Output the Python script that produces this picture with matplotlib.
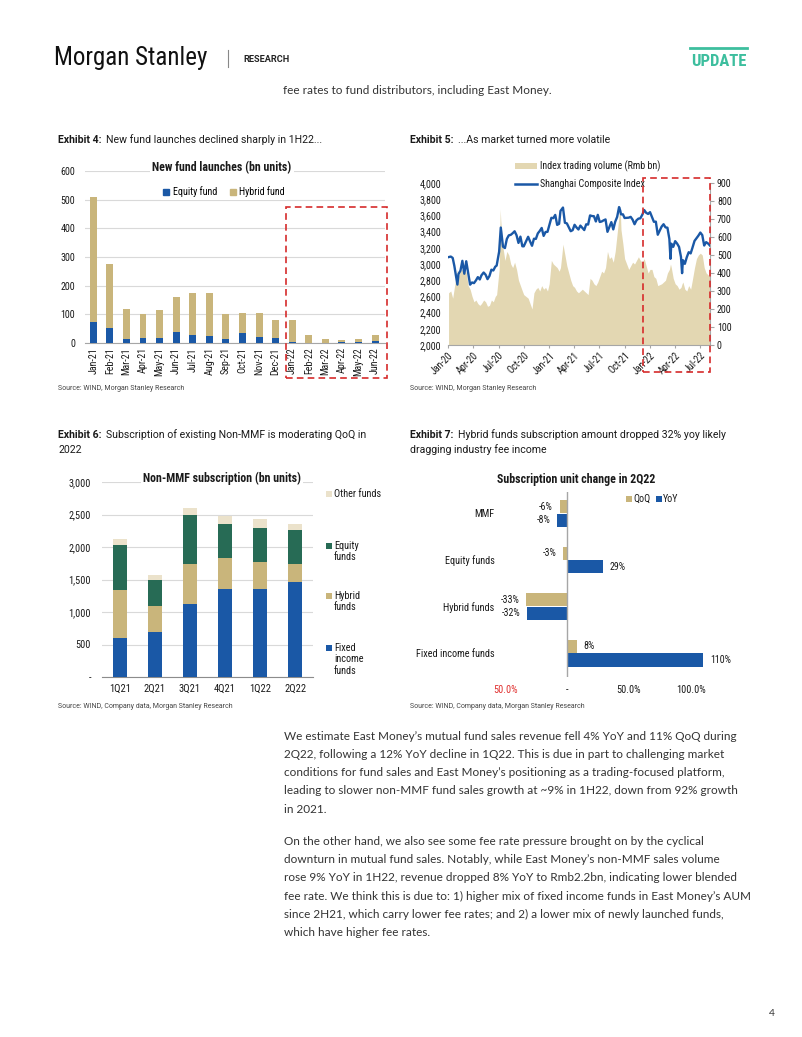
import matplotlib
matplotlib.use('Agg')
import matplotlib.pyplot as plt
import matplotlib.dates as mdates
from matplotlib.patches import Rectangle, Patch
from matplotlib.lines import Line2D
import numpy as np
import pandas as pd

# ---------------- data ----------------
launch_months = ['Jan-21', 'Feb-21', 'Mar-21', 'Apr-21', 'May-21', 'Jun-21', 'Jul-21', 'Aug-21',
                 'Sep-21', 'Oct-21', 'Nov-21', 'Dec-21', 'Jan-22', 'Feb-22', 'Mar-22', 'Apr-22',
                 'May-22', 'Jun-22']
launch_equity = [75, 52, 14, 16, 16, 37, 29, 24, 13, 36, 20, 18, 5, 1, 1, 5, 2, 8]
launch_hybrid = [435, 224, 104, 86, 100, 123, 147, 150, 89, 68, 83, 63, 76, 26, 13, 5, 13, 21]

mkt_dates = ['2020-01-02', '2020-01-10', '2020-01-17', '2020-01-23', '2020-02-03', '2020-02-07',
             '2020-02-14', '2020-02-21', '2020-02-28', '2020-03-06', '2020-03-13', '2020-03-20',
             '2020-03-27', '2020-04-03', '2020-04-10', '2020-04-17', '2020-04-24', '2020-04-30',
             '2020-05-08', '2020-05-15', '2020-05-22', '2020-05-29', '2020-06-05', '2020-06-12',
             '2020-06-19', '2020-06-24', '2020-07-03', '2020-07-07', '2020-07-09', '2020-07-17',
             '2020-07-24', '2020-07-31', '2020-08-07', '2020-08-14', '2020-08-21', '2020-08-28',
             '2020-09-04', '2020-09-11', '2020-09-18', '2020-09-25', '2020-09-30', '2020-10-16',
             '2020-10-23', '2020-10-30', '2020-11-06', '2020-11-13', '2020-11-20', '2020-11-27',
             '2020-12-04', '2020-12-11', '2020-12-18', '2020-12-25', '2020-12-31',
             '2021-01-08', '2021-01-15', '2021-01-22', '2021-01-29', '2021-02-05', '2021-02-10',
             '2021-02-19', '2021-02-26', '2021-03-05', '2021-03-12', '2021-03-19', '2021-03-26',
             '2021-04-02', '2021-04-09', '2021-04-16', '2021-04-23', '2021-04-30', '2021-05-07',
             '2021-05-14', '2021-05-21', '2021-05-28', '2021-06-04', '2021-06-11', '2021-06-18',
             '2021-06-25', '2021-07-02', '2021-07-09', '2021-07-16', '2021-07-23', '2021-07-30',
             '2021-08-06', '2021-08-13', '2021-08-20', '2021-08-27', '2021-09-03', '2021-09-10',
             '2021-09-14', '2021-09-17', '2021-09-24', '2021-09-30', '2021-10-15', '2021-10-22',
             '2021-10-29', '2021-11-05', '2021-11-12', '2021-11-19', '2021-11-26', '2021-12-03',
             '2021-12-10', '2021-12-17', '2021-12-24', '2021-12-31',
             '2022-01-07', '2022-01-14', '2022-01-21', '2022-01-28', '2022-02-11', '2022-02-18',
             '2022-02-25', '2022-03-04', '2022-03-11', '2022-03-15', '2022-03-18', '2022-03-25',
             '2022-04-01', '2022-04-08', '2022-04-15', '2022-04-22', '2022-04-26', '2022-04-29',
             '2022-05-06', '2022-05-13', '2022-05-20', '2022-05-27', '2022-06-02', '2022-06-10',
             '2022-06-17', '2022-06-24', '2022-07-01', '2022-07-08', '2022-07-15', '2022-07-22',
             '2022-07-29', '2022-08-05']
sh_index = [3085, 3092, 3075, 2976, 2746, 2876, 2917, 3039, 2880, 3034, 2887, 2745,
            2772, 2764, 2797, 2838, 2809, 2860, 2895, 2868, 2813, 2852, 2930, 2920,
            2967, 2980, 3152, 3345, 3450, 3214, 3197, 3310, 3354, 3360, 3380, 3404,
            3355, 3260, 3338, 3219, 3218, 3336, 3278, 3225, 3312, 3310, 3378, 3408,
            3445, 3347, 3395, 3397, 3473,
            3570, 3566, 3606, 3483, 3496, 3655, 3697, 3509, 3502, 3453, 3405, 3418,
            3484, 3451, 3426, 3474, 3447, 3419, 3490, 3487, 3600, 3592, 3590, 3525,
            3607, 3519, 3525, 3539, 3550, 3397, 3458, 3517, 3427, 3522, 3581, 3703,
            3662, 3613, 3613, 3568, 3572, 3582, 3547, 3491, 3539, 3560, 3564, 3608,
            3666, 3632, 3618, 3640,
            3580, 3521, 3523, 3361, 3462, 3491, 3452, 3448, 3309, 3064, 3251, 3212,
            3282, 3252, 3211, 3087, 2887, 3047, 3002, 3084, 3146, 3131, 3195, 3285,
            3317, 3350, 3388, 3357, 3228, 3270, 3253, 3227]
trade_volume = [290, 300, 260, 320, 420, 380, 410, 420, 430, 400, 330, 310,
                270, 240, 250, 230, 220, 230, 250, 240, 215, 220, 250, 240,
                270, 280, 420, 755, 690, 540, 470, 520, 500, 450, 430, 460,
                420, 360, 330, 300, 280, 260, 230, 200, 290, 310, 320, 300,
                330, 310, 320, 300, 340,
                470, 450, 440, 430, 410, 430, 560, 500, 440, 400, 360, 330,
                320, 300, 290, 300, 310, 300, 290, 280, 370, 360, 340, 330,
                350, 380, 410, 400, 430, 520, 480, 490, 460, 520, 620, 720,
                770, 640, 560, 480, 420, 440, 460, 450, 470, 490, 470, 460,
                480, 440, 400, 420,
                420, 380, 370, 330, 340, 350, 360, 400, 420, 450, 430, 370,
                340, 330, 310, 320, 340, 350, 310, 300, 330, 310, 360, 430,
                480, 500, 510, 500, 430, 400, 390, 380]

quarters = ['1Q21', '2Q21', '3Q21', '4Q21', '1Q22', '2Q22']
sub_fixed = [598, 695, 1119, 1359, 1359, 1467]
sub_hybrid = [741, 404, 623, 470, 409, 270]
sub_equity = [685, 393, 757, 532, 532, 522]
sub_other = [97, 77, 107, 117, 137, 92]

chg_categories = ['MMF', 'Equity funds', 'Hybrid funds', 'Fixed income funds']
chg_qoq = [-6, -3, -33, 8]
chg_yoy = [-8, 29, -32, 110]

# ---------------- style ----------------
BLUE = '#1a58a6'
TAN = '#c9b57b'
FILL = '#e3d7b2'
GREEN = '#276b55'
LIGHT = '#ebe2cb'
RED = '#d62b2b'
GRID = '#d9d9d9'
AXIS = '#a6a6a6'
TEAL = '#3dbe9e'
TXT = '#1a1a1a'

COND = ['Roboto Condensed', 'Liberation Sans Narrow', 'Roboto', 'DejaVu Sans']
plt.rcParams['font.family'] = COND
plt.rcParams['axes.unicode_minus'] = False

W, H = 802, 1037
fig = plt.figure(figsize=(W / 100, H / 100), dpi=100)
fig.patch.set_facecolor('white')
renderer = fig.canvas.get_renderer()


def fx(x):
    return x / W


def fy(y):
    return 1 - y / H


def rect(x0, y0, x1, y1):
    return [x0 / W, 1 - y1 / H, (x1 - x0) / W, (y1 - y0) / H]


def exhibit(x, y, label, lines):
    t = fig.text(fx(x), fy(y), label, weight='bold', fontsize=7.6, family=['Roboto'],
                 va='center', ha='left', color=TXT)
    bb = t.get_window_extent(renderer=renderer)
    fig.text((bb.x1 + 5) / W, fy(y), lines[0], fontsize=7.6, family=['Roboto'],
             va='center', ha='left', color=TXT)
    for i, ln in enumerate(lines[1:], 1):
        fig.text(fx(x), fy(y + 15 * i), ln, fontsize=7.6, family=['Roboto'],
                 va='center', ha='left', color=TXT)


def source(x, y, s):
    fig.text(fx(x), fy(y), s, fontsize=5, family=['Roboto'], color='#444', va='center', ha='left')


def dashed_box(x0, y0, x1, y1):
    fig.add_artist(Rectangle((fx(x0), fy(y1)), (x1 - x0) / W, (y1 - y0) / H,
                             transform=fig.transFigure, fill=False, ec=RED, lw=1.2,
                             ls=(0, (4, 2.5)), zorder=10))


def square(x, y, color, size=6):
    fig.add_artist(Rectangle((fx(x), fy(y + size / 2)), size / W, size / H,
                             transform=fig.transFigure, color=color, lw=0, zorder=10))


# ---------------- header ----------------
fig.text(fx(54), fy(58), 'Morgan Stanley', fontsize=18, family=COND,
         va='center', ha='left', color='#111')
fig.add_artist(Line2D([fx(228), fx(228)], [fy(50), fy(67)], color='#888', lw=0.8))
fig.text(fx(243), fy(59), 'RESEARCH', fontsize=6.6, weight='bold', family=['Roboto'],
         va='center', ha='left', color='#222')
fig.add_artist(Line2D([fx(690), fx(747)], [fy(48), fy(48)], color=TEAL, lw=2))
fig.text(fx(718.5), fy(61.5), 'UPDATE', fontsize=12, weight='bold', family=COND,
         va='center', ha='center', color=TEAL)
fig.text(fx(283), fy(90), 'fee rates to fund distributors, including East Money.',
         fontsize=8.5, family=['Lato'], color='#333', va='center', ha='left')

# ---------------- Exhibit 4 ----------------
exhibit(58, 139.5, 'Exhibit 4:', ['New fund launches declined sharply in 1H22...'])
ax1 = fig.add_axes(rect(85, 171, 385, 343))
x1 = np.arange(len(launch_months))
ax1.bar(x1, launch_equity, width=0.42, color=BLUE, zorder=3)
ax1.bar(x1, launch_hybrid, bottom=launch_equity, width=0.42, color=TAN, zorder=3)
ax1.set_xlim(-0.5, 17.6)
ax1.set_ylim(0, 600)
ax1.set_yticks(range(0, 601, 100))
ax1.set_xticks(x1)
ax1.set_xticklabels(launch_months, rotation=90)
ax1.grid(axis='y', color=GRID, lw=0.8, zorder=0)
ax1.set_axisbelow(True)
for s in ['top', 'right', 'left']:
    ax1.spines[s].set_visible(False)
ax1.spines['bottom'].set_color(AXIS)
ax1.tick_params(axis='y', length=0, pad=7, labelsize=7.2, colors=TXT)
ax1.tick_params(axis='x', length=0, pad=3, labelsize=7.2, colors=TXT)
fig.text(fx(222), fy(168), 'New fund launches (bn units)', fontsize=8.6, weight='bold',
         ha='center', va='center', color=TXT,
         bbox=dict(fc='white', ec='none', pad=1.5))
ax1.legend(handles=[Patch(color=BLUE, label='Equity fund'), Patch(color=TAN, label='Hybrid fund')],
           ncol=2, loc='center', bbox_to_anchor=(fx(224), fy(192)), bbox_transform=fig.transFigure,
           frameon=True, facecolor='white', edgecolor='none', fancybox=False, framealpha=1,
           fontsize=7.2, handlelength=0.6, handleheight=0.6, handletextpad=0.35,
           columnspacing=1.3, borderpad=0.25)
dashed_box(286, 207, 387, 378)
source(58, 389, 'Source: WIND, Morgan Stanley Research')

# ---------------- Exhibit 5 ----------------
exhibit(410, 139.5, 'Exhibit 5:', ['...As market turned more volatile'])
dts = pd.to_datetime(mkt_dates)
ax2v = fig.add_axes(rect(448, 183, 710, 345))
ax2v.fill_between(dts, 0, trade_volume, color=FILL, lw=0)
ax2i = ax2v.twinx()
ax2v.yaxis.tick_right()
ax2i.yaxis.tick_left()
ax2i.plot(dts, sh_index, color=BLUE, lw=1.7)
ax2v.set_ylim(0, 900)
ax2v.set_yticks(range(0, 901, 100))
ax2i.set_ylim(2000, 4000)
ax2i.set_yticks(range(2000, 4001, 200))
ax2i.set_yticklabels([f'{v:,}' for v in range(2000, 4001, 200)])
ax2v.set_xlim(pd.Timestamp('2019-12-31'), pd.Timestamp('2022-08-05'))
ax2v.xaxis.set_major_locator(mdates.MonthLocator(bymonth=[1, 4, 7, 10]))
ax2v.xaxis.set_major_formatter(mdates.DateFormatter('%b-%y'))
for lab in ax2v.get_xticklabels():
    lab.set_rotation(45)
    lab.set_ha('right')
    lab.set_rotation_mode('anchor')
for a in (ax2v, ax2i):
    for s in ['top', 'left']:
        a.spines[s].set_visible(False)
    a.spines['right'].set_color(AXIS)
    a.spines['bottom'].set_color(AXIS)
ax2i.spines['right'].set_visible(False)
ax2i.spines['bottom'].set_visible(False)
ax2v.tick_params(axis='y', length=3, color=AXIS, pad=2, labelsize=7.2, colors=TXT)
ax2v.tick_params(axis='y', color=AXIS)
ax2v.tick_params(axis='x', length=2, color=AXIS, pad=2, labelsize=7.2, labelcolor=TXT)
ax2i.tick_params(axis='y', length=0, pad=5, labelsize=7.2, colors=TXT)
fig.add_artist(Rectangle((fx(515), fy(169)), 22 / W, 6 / H, transform=fig.transFigure,
                         color=FILL, lw=0))
fig.text(fx(540), fy(166), 'Index trading volume (Rmb bn)', fontsize=7.2, va='center',
         ha='left', color=TXT)
fig.add_artist(Line2D([fx(515), fx(537)], [fy(184), fy(184)], color=BLUE, lw=1.8))
fig.text(fx(540), fy(184), 'Shanghai Composite Index', fontsize=7.2, va='center',
         ha='left', color=TXT)
dashed_box(643, 178, 710, 372)
source(410, 389, 'Source: WIND, Morgan Stanley Research')

# ---------------- Exhibit 6 ----------------
exhibit(58, 435, 'Exhibit 6:', ['Subscription of existing Non-MMF is moderating QoQ in', '2022'])
ax3 = fig.add_axes(rect(102, 482, 313, 677))
x3 = np.arange(len(quarters))
b1 = np.array(sub_fixed)
b2 = b1 + np.array(sub_hybrid)
b3 = b2 + np.array(sub_equity)
ax3.bar(x3, sub_fixed, width=0.4, color=BLUE, zorder=3)
ax3.bar(x3, sub_hybrid, bottom=b1, width=0.4, color=TAN, zorder=3)
ax3.bar(x3, sub_equity, bottom=b2, width=0.4, color=GREEN, zorder=3)
ax3.bar(x3, sub_other, bottom=b3, width=0.4, color=LIGHT, zorder=3)
ax3.set_xlim(-0.51, 5.51)
ax3.set_ylim(0, 3000)
ax3.set_yticks(range(0, 3001, 500))
ax3.set_yticklabels(['-'] + [f'{v:,}' for v in range(500, 3001, 500)])
ax3.set_xticks(x3)
ax3.set_xticklabels(quarters)
ax3.grid(axis='y', color=GRID, lw=0.8, zorder=0)
ax3.set_axisbelow(True)
for s in ['top', 'right', 'left']:
    ax3.spines[s].set_visible(False)
ax3.spines['bottom'].set_color('#8c8c8c')
ax3.tick_params(axis='y', length=0, pad=8, labelsize=7.4, colors=TXT)
ax3.tick_params(axis='x', length=0, pad=5, labelsize=7.6, colors=TXT)
fig.text(fx(222), fy(478), 'Non-MMF subscription (bn units)', fontsize=8.6, weight='bold',
         ha='center', va='center', color=TXT, bbox=dict(fc='white', ec='none', pad=1.5))
leg3 = [(LIGHT, ['Other funds'], 494), (GREEN, ['Equity', 'funds'], 546),
        (TAN, ['Hybrid', 'funds'], 596), (BLUE, ['Fixed', 'income', 'funds'], 648)]
for col, lines, yy in leg3:
    square(326, yy, col)
    for i, ln in enumerate(lines):
        fig.text(fx(334), fy(yy + 11.5 * i), ln, fontsize=7.4, va='center', ha='left', color=TXT)
source(58, 706, 'Source: WIND, Company data, Morgan Stanley Research')

# ---------------- Exhibit 7 ----------------
exhibit(410, 435, 'Exhibit 7:', ['Hybrid funds subscription amount dropped 32% yoy likely',
                                 'dragging industry fee income'])
ax4 = fig.add_axes(rect(500, 492, 720, 677))
y4 = np.arange(len(chg_categories))
ax4.barh(y4 - 0.145, chg_qoq, height=0.28, color=TAN, zorder=3)
ax4.barh(y4 + 0.145, chg_yoy, height=0.28, color=BLUE, zorder=3)
ax4.set_ylim(3.51, -0.46)
ax4.set_xlim(-54.2, 123.8)
ax4.axvline(0, color=AXIS, lw=1, zorder=4)
for s in ax4.spines.values():
    s.set_visible(False)
ax4.set_yticks(y4)
ax4.set_yticklabels(chg_categories)
ax4.set_xticks([-50, 0, 50, 100])
ax4.set_xticklabels(['50.0%', '-', '50.0%', '100.0%'])
ax4.get_xticklabels()[0].set_color('#e0302f')
ax4.tick_params(axis='y', length=0, pad=4, labelsize=7.4, colors=TXT)
ax4.tick_params(axis='x', length=0, pad=6, labelsize=7.4)
for lab in ax4.get_xticklabels()[1:]:
    lab.set_color(TXT)
for vals, off in ((chg_qoq, -0.145), (chg_yoy, 0.145)):
    for i, v in enumerate(vals):
        ax4.annotate(f'{v}%', (v, i + off), xytext=(5 if v > 0 else -5, 0),
                     textcoords='offset points', ha='left' if v > 0 else 'right',
                     va='center', fontsize=7.2, color=TXT)
fig.text(fx(576), fy(479), 'Subscription unit change in 2Q22', fontsize=8.6, weight='bold',
         ha='center', va='center', color=TXT)
square(626, 499, TAN)
fig.text(fx(633), fy(499), 'QoQ', fontsize=7.2, va='center', ha='left', color=TXT)
square(656, 499, BLUE)
fig.text(fx(663), fy(499), 'YoY', fontsize=7.2, va='center', ha='left', color=TXT)
source(410, 706, 'Source: WIND, Company data, Morgan Stanley Research')

# ---------------- body text ----------------
para1 = ["We estimate East Money\u2019s mutual fund sales revenue fell 4% YoY and 11% QoQ during",
         "2Q22, following a 12% YoY decline in 1Q22. This is due in part to challenging market",
         "conditions for fund sales and East Money\u2019s positioning as a trading-focused platform,",
         "leading to slower non-MMF fund sales growth at ~9% in 1H22, down from 92% growth",
         "in 2021."]
para2 = ["On the other hand, we also see some fee rate pressure brought on by the cyclical",
         "downturn in mutual fund sales. Notably, while East Money\u2019s non-MMF sales volume",
         "rose 9% YoY in 1H22, revenue dropped 8% YoY to Rmb2.2bn, indicating lower blended",
         "fee rate. We think this is due to: 1) higher mix of fixed income funds in East Money\u2019s AUM",
         "since 2H21, which carry lower fee rates; and 2) a lower mix of newly launched funds,",
         "which have higher fee rates."]
for i, ln in enumerate(para1):
    fig.text(fx(284), fy(736 + 18.3 * i), ln, fontsize=8.5, family=['Lato'], color='#333',
             va='center', ha='left')
for i, ln in enumerate(para2):
    fig.text(fx(284), fy(841.7 + 18.1 * i), ln, fontsize=8.5, family=['Lato'], color='#333',
             va='center', ha='left')
fig.text(fx(772), fy(1013), '4', fontsize=7.5, family=['Lato'], color='#333', va='center',
         ha='center')

fig.savefig('out.png', dpi=100, facecolor='white')
